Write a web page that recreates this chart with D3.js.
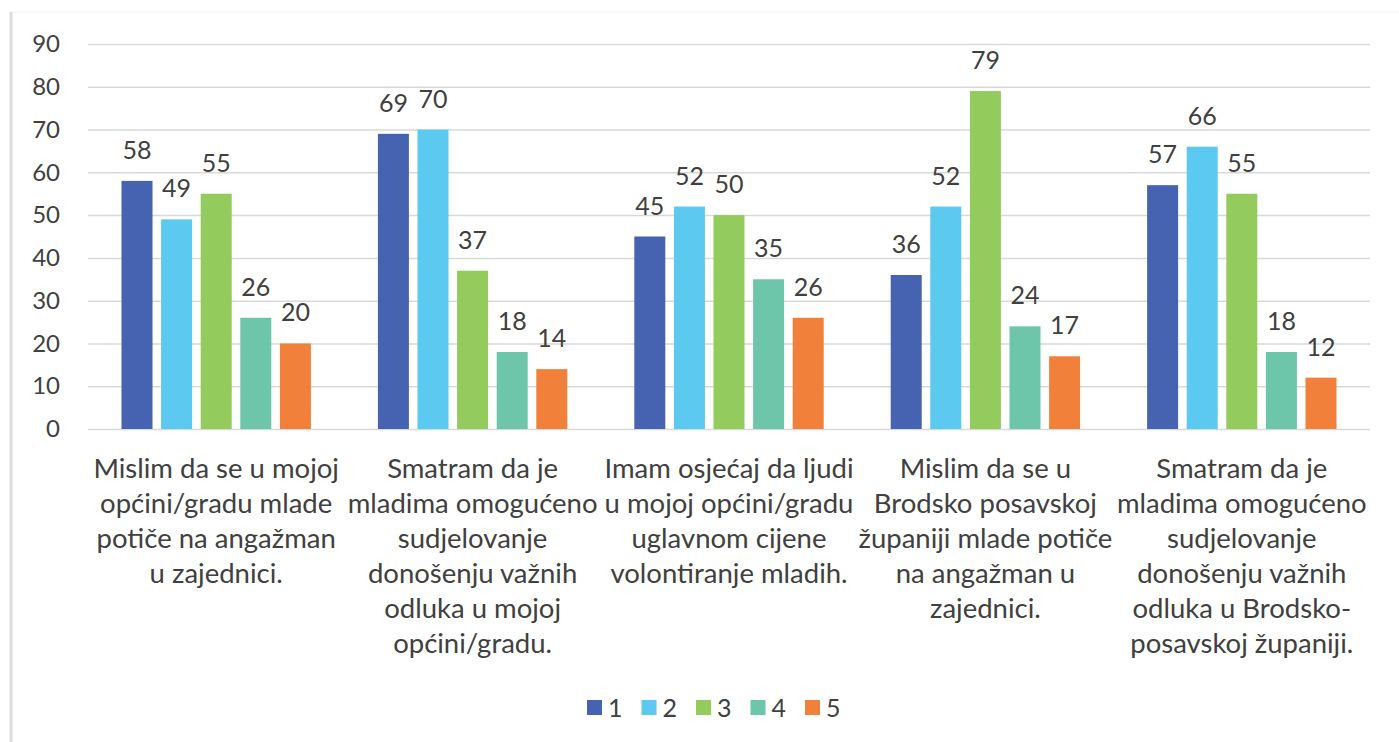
<!DOCTYPE html>
<html>
<head>
<meta charset="utf-8">
<script src="https://cdn.jsdelivr.net/npm/d3@7"></script>
<style>
  body { margin: 0; background: #fff; }
  svg { display: block; font-family: Lato, "Open Sans", sans-serif; }
</style>
</head>
<body>
<svg id="chart" width="1399" height="742"></svg>
<script>
// categories (each label already split in lines as in the picture)
const categories = [
  ["Mislim da se u mojoj", "općini/gradu mlade", "potiče na angažman", "u zajednici."],
  ["Smatram da je", "mladima omogućeno", "sudjelovanje", "donošenju važnih", "odluka u mojoj", "općini/gradu."],
  ["Imam osjećaj da ljudi", "u mojoj općini/gradu", "uglavnom cijene", "volontiranje mladih."],
  ["Mislim da se u", "Brodsko posavskoj", "županiji mlade potiče", "na angažman u", "zajednici."],
  ["Smatram da je", "mladima omogućeno", "sudjelovanje", "donošenju važnih", "odluka u Brodsko-", "posavskoj županiji."]
];
const seriesNames = ["1", "2", "3", "4", "5"];
const series1 = [58, 69, 45, 36, 57];
const series2 = [49, 70, 52, 52, 66];
const series3 = [55, 37, 50, 79, 55];
const series4 = [26, 18, 35, 24, 18];
const series5 = [20, 14, 26, 17, 12];
const yTicks = [0, 10, 20, 30, 40, 50, 60, 70, 80, 90];
const colors = ["#4563b1", "#5bc9f0", "#93cb5d", "#6dc6aa", "#f1813a"];

const allSeries = [series1, series2, series3, series4, series5];

const svg = d3.select("#chart");
const textColor = "#404040";

// frame
svg.append("line").attr("x1", 10).attr("x2", 1399).attr("y1", 12).attr("y2", 12)
  .attr("stroke", "#f0eeee").attr("stroke-width", 1);
svg.append("line").attr("x1", 11).attr("x2", 11).attr("y1", 12).attr("y2", 742)
  .attr("stroke", "#dcdcdc").attr("stroke-width", 3);

const plotLeft = 88, plotRight = 1370, plotTop = 44, plotBottom = 429;

const y = d3.scaleLinear().domain([0, 90]).range([plotBottom, plotTop]);
const x0 = d3.scaleBand().domain(d3.range(categories.length)).range([plotLeft, plotRight]);
const x1 = d3.scaleBand().domain(seriesNames).range([0, x0.bandwidth()])
  .paddingInner(0.217).paddingOuter(0.846);

// grid
const yAxis = d3.axisLeft(y).tickValues(yTicks).tickSize(-(plotRight - plotLeft)).tickPadding(28);
const gy = svg.append("g").attr("transform", `translate(${plotLeft},0)`).call(yAxis);
gy.select(".domain").remove();
gy.selectAll(".tick line").attr("stroke", "#d9d9d9").attr("stroke-width", 1.5);
gy.selectAll(".tick text").attr("fill", textColor).style("font-size", "24px")
  .attr("font-family", "Lato, 'Open Sans', sans-serif");

// bars
const groups = svg.append("g").selectAll("g")
  .data(categories.map((c, i) => i))
  .join("g")
  .attr("transform", i => `translate(${x0(i)},0)`);

groups.selectAll("rect")
  .data(i => allSeries.map((s, k) => ({ key: seriesNames[k], value: s[i], color: colors[k] })))
  .join("rect")
  .attr("x", d => x1(d.key))
  .attr("width", x1.bandwidth())
  .attr("y", d => y(d.value))
  .attr("height", d => y(0) - y(d.value))
  .attr("fill", d => d.color);

groups.selectAll("text.val")
  .data(i => allSeries.map((s, k) => ({ key: seriesNames[k], value: s[i] })))
  .join("text")
  .attr("class", "val")
  .attr("x", d => x1(d.key) + x1.bandwidth() / 2)
  .attr("y", d => y(d.value) - 22)
  .attr("text-anchor", "middle")
  .attr("fill", textColor)
  .style("font-size", "25px")
  .text(d => d.value);

// category labels
const catLabels = svg.append("g").selectAll("text")
  .data(categories)
  .join("text")
  .attr("text-anchor", "middle")
  .attr("fill", textColor)
  .style("font-size", "27.5px")
  .attr("x", (d, i) => x0(i) + x0.bandwidth() / 2)
  .attr("y", 478);
catLabels.selectAll("tspan")
  .data(d => d)
  .join("tspan")
  .attr("x", function () { return this.parentNode.getAttribute("x"); })
  .attr("dy", (d, i) => i === 0 ? 0 : 35)
  .text(d => d);

// legend
const legend = svg.append("g").selectAll("g")
  .data(seriesNames)
  .join("g")
  .attr("transform", (d, i) => `translate(${587 + i * 54.5},700)`);
legend.append("rect").attr("width", 15).attr("height", 15)
  .attr("fill", (d, i) => colors[i]);
legend.append("text").attr("x", 21).attr("y", 17)
  .attr("fill", textColor).style("font-size", "25px").text(d => d);
</script>
</body>
</html>
